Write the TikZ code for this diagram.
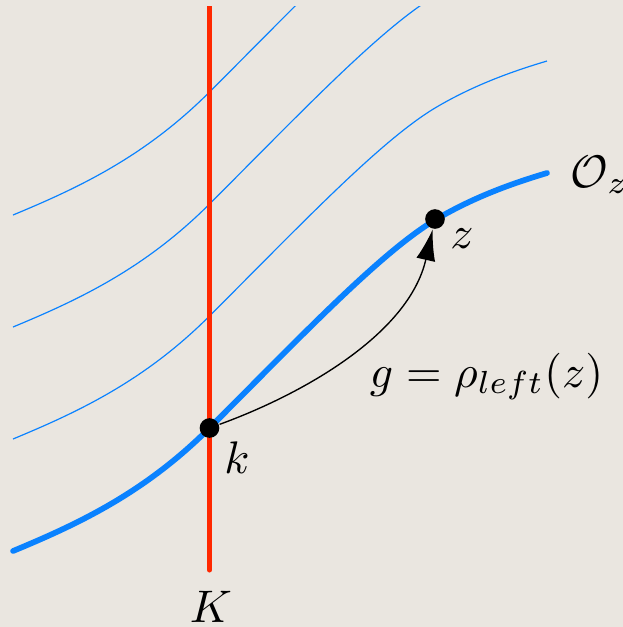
\documentclass[tikz,border=0pt]{standalone}
\usetikzlibrary{arrows.meta}
\definecolor{bgc}{RGB}{234,230,224}
\definecolor{orbitblue}{RGB}{10,130,255}
\definecolor{kred}{RGB}{255,40,0}
\begin{document}
\begin{tikzpicture}[x=0.219pt,y=-0.219pt,
  thickorbit/.style={draw=orbitblue,line width=1.25pt,line cap=round},
  thinorbit/.style={draw=orbitblue,line width=0.26pt},
  redline/.style={draw=kred,line width=1.1pt,line cap=round},
  dot/.style={circle,fill=black,inner sep=0pt,minimum size=4.3pt},
  lab/.style={inner sep=0pt},
  maparrow/.style={draw=black,line width=0.3pt,-{Latex[length=6.8pt,width=4.2pt]}}]
\fill[bgc] (0,0) rectangle (623,627);
\useasboundingbox (0,0) rectangle (623,627);
\begin{scope}
  \clip (0,6) rectangle (623,627);
  \foreach \s in {112,224,336}{
    \draw[thinorbit,shift={(0,-\s)}] (13,551) .. controls (78,524) and (144.5,493) .. (209.5,428)
      .. controls (299.5,338) and (380,253) .. (435,220)
      .. controls (472,198) and (510,184) .. (547,173);
  }
  \draw[redline] (209.5,-20) -- (209.5,570);
\end{scope}
\draw[thickorbit] (13,551) .. controls (78,524) and (144.5,493) .. (209.5,428)
      .. controls (299.5,338) and (380,253) .. (435,220)
      .. controls (472,198) and (510,184) .. (547,173);
\node[dot] (k) at (209.5,428) {};
\node[dot] (z) at (435,219) {};
\draw[maparrow] (k) .. controls (303,394) and (409,334) .. (z);
\node[lab,anchor=base] (klab) at (237,473) {$k$};
\node[lab,anchor=base] (zlab) at (462,248) {$z$};
\node[lab,anchor=base west] (olab) at (570,187) {$\mathcal{O}_z$};
\node[lab,anchor=base] (Klab) at (211,622) {$K$};
\node[lab,anchor=base west] (glab) at (369,387) {$g=\rho_{left}(z)$};
\end{tikzpicture}
\end{document}
